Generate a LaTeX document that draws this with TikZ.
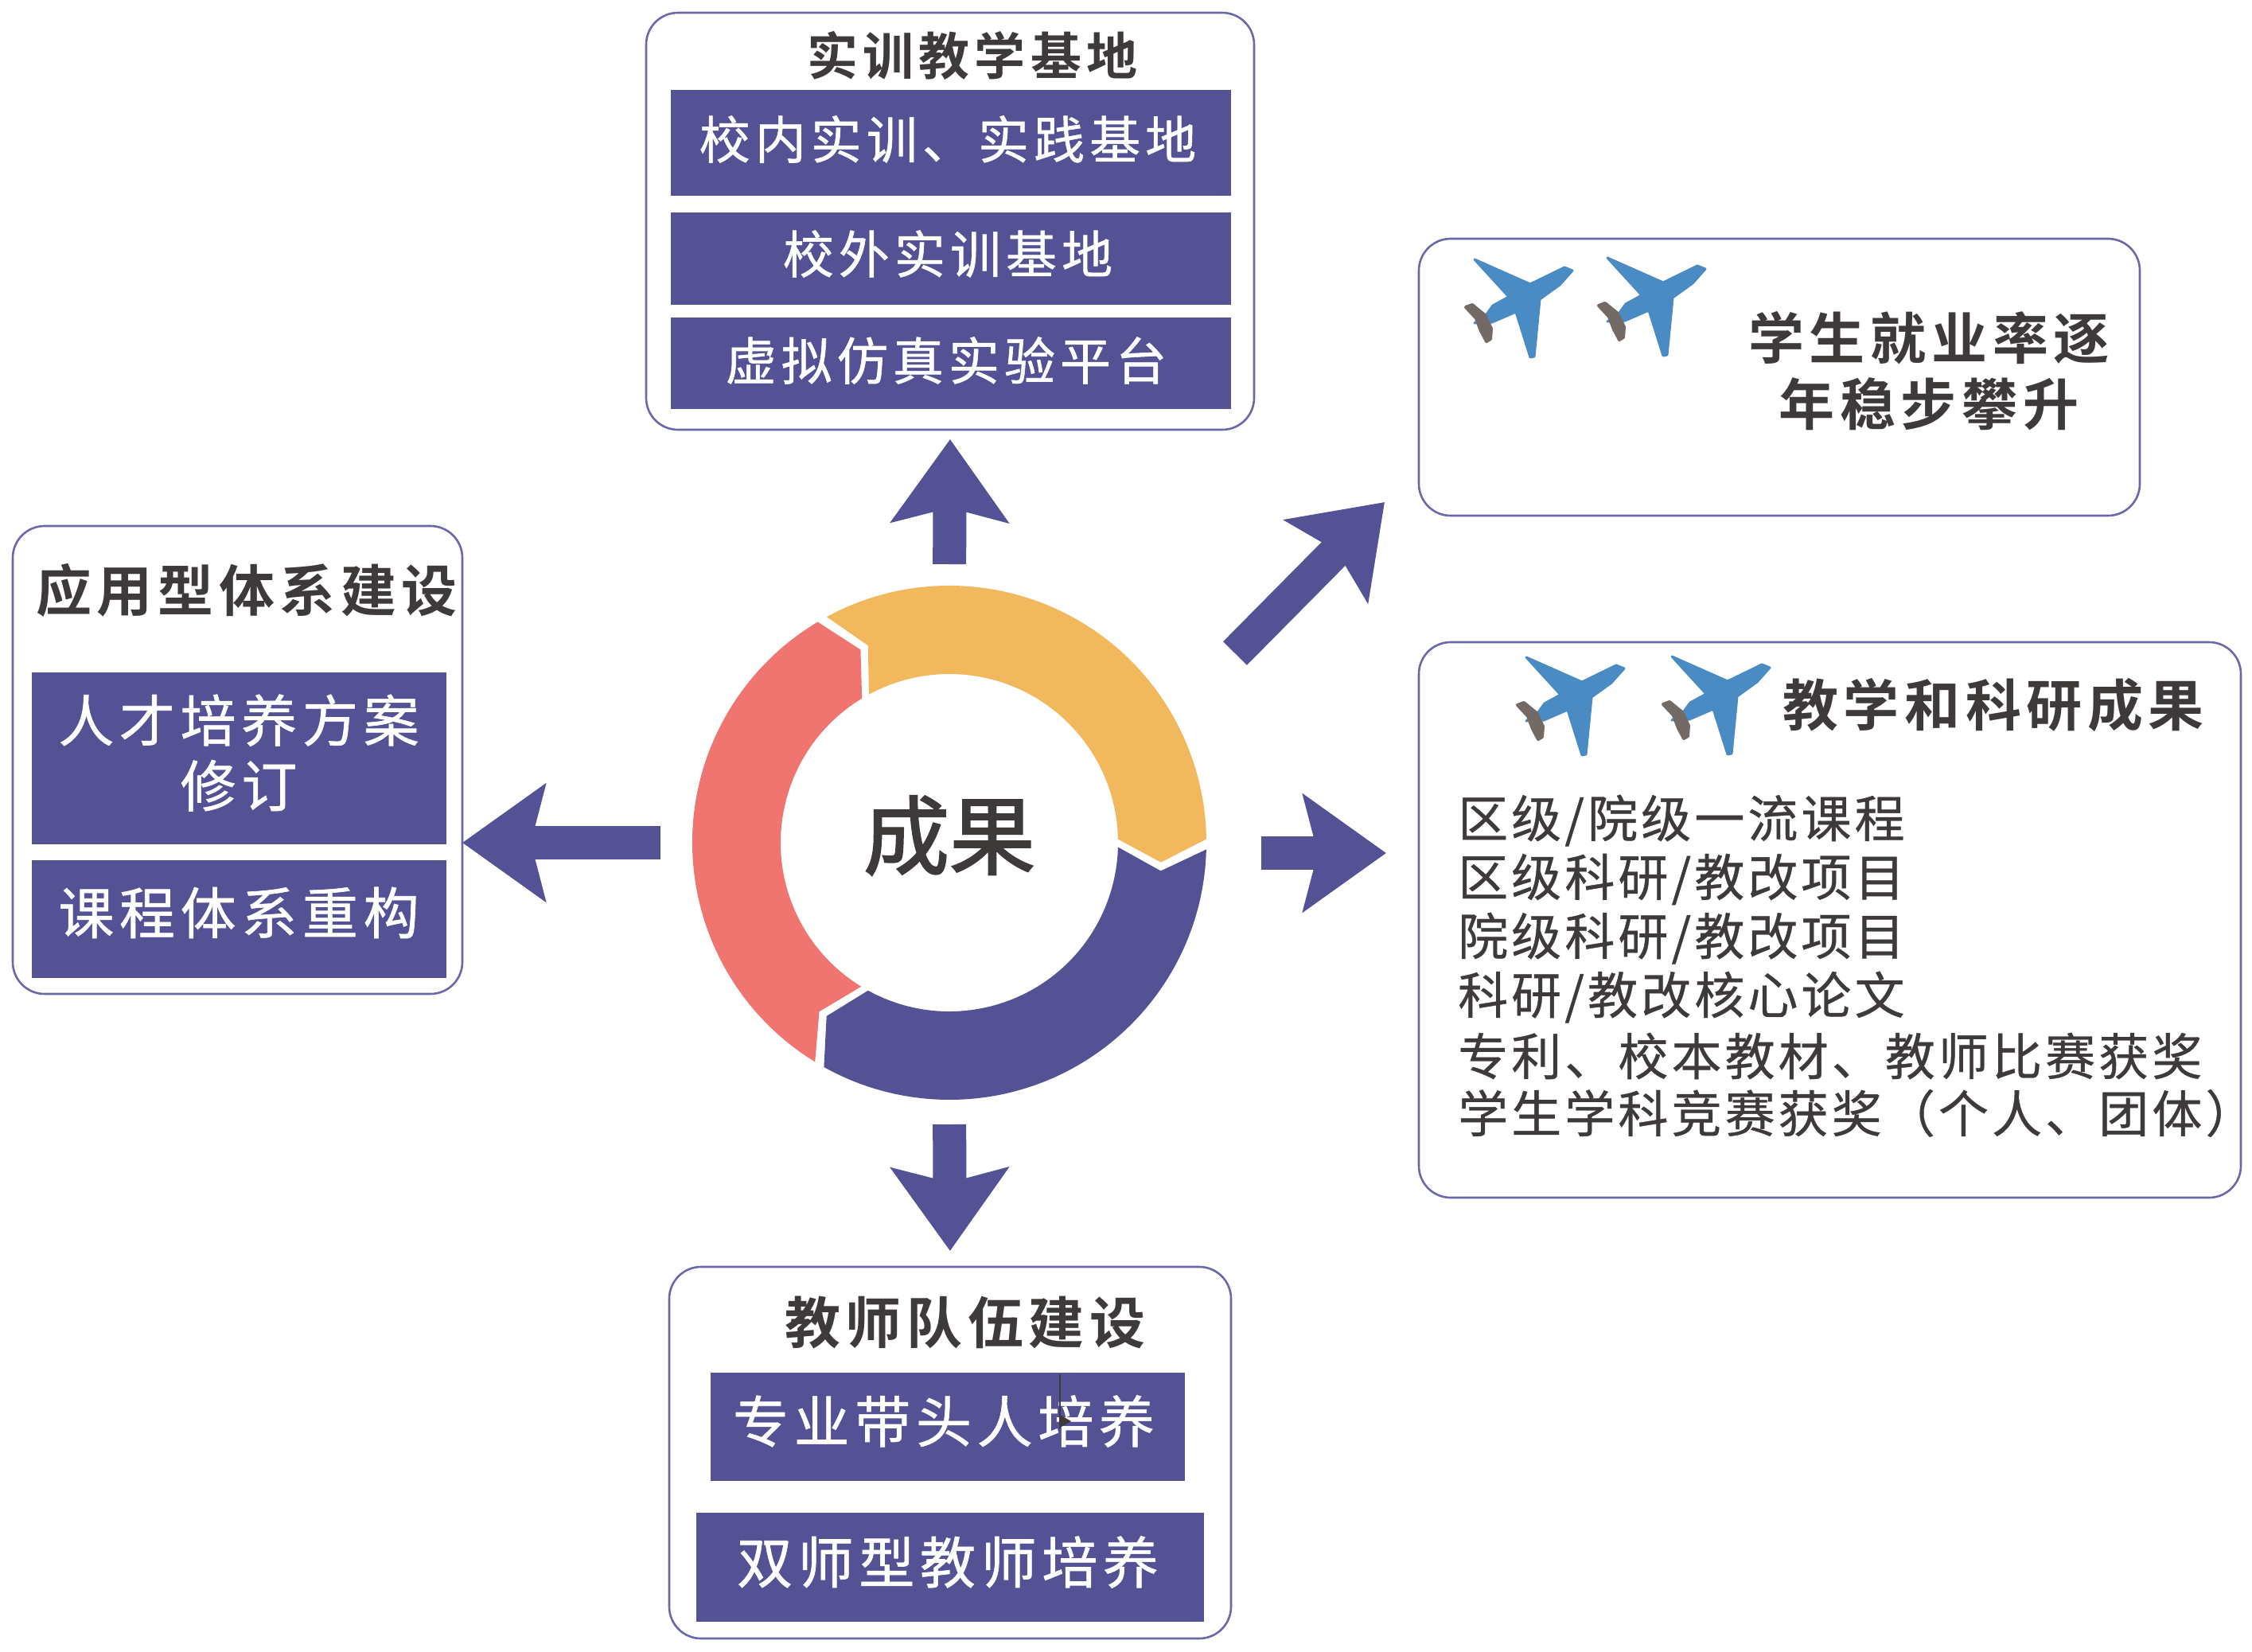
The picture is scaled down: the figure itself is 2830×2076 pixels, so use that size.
\documentclass[tikz,border=0pt]{standalone}
\usepackage{fontspec}
\usetikzlibrary{arrows.meta}
\newfontfamily\cjkb[LetterSpace=9.5]{Noto Sans CJK SC Bold}
\newfontfamily\cjkr[LetterSpace=9.5,FakeBold=0.9]{Noto Sans CJK SC}
\newfontfamily\cjkl[LetterSpace=6.5,FakeBold=0.6]{Noto Sans CJK SC}
\newfontfamily\cjkc[FakeBold=2]{Noto Sans CJK SC}
\definecolor{navy}{HTML}{545294}
\definecolor{edge}{HTML}{6A68A8}
\definecolor{ink}{HTML}{3E3A39}
\definecolor{gold}{HTML}{F2B85E}
\definecolor{coral}{HTML}{F07570}
\definecolor{skyb}{HTML}{4B8BC3}
\definecolor{tailg}{HTML}{736A66}
\tikzset{
  panel/.style={draw=edge,line width=2.6pt,fill=white,rounded corners=40pt,inner sep=0pt,outer sep=0pt,minimum width=#1},
  bar/.style={fill=navy,draw=none,inner sep=0pt,outer sep=0pt,text=white,align=center},
  ttl/.style={text=ink,inner sep=0pt,font=\fontsize{64}{72}\selectfont\cjkb},
  ttlb/.style={text=ink,inner sep=0pt,align=center,font=\fontsize{70}{83}\selectfont\cjkb},
  wh/.style={text=white,inner sep=0pt,align=center,font=\fontsize{64}{72}\selectfont\cjkr},
  whb/.style={text=white,inner sep=0pt,align=center,font=\fontsize{70}{82}\selectfont\cjkr},
  lst/.style={text=ink,inner sep=0pt,anchor=west,font=\fontsize{63}{72}\selectfont\cjkl},
  fat/.style={draw=navy,line width=42pt,-{Stealth[length=104pt,width=146pt,inset=18pt,color=navy]}},
  seg/.style={draw=none,fill=#1},
  plane/.pic={
    \filldraw[skyb,line width=3pt,line join=round] (63,-43) -- (53,-47) -- (10,-26) -- (-60,-57) -- (-17,-10) -- (-37,1)
      -- (-45,12) -- (-60,23) -- (-38,22) -- (-8,9) -- (10,66) -- (15,65) -- (22,-7) -- (47,-25) -- cycle;
    \filldraw[tailg,line width=4pt,line join=round] (-71,3) -- (-63,0) -- (-47,13) -- (-39,30) -- (-40,43) -- (-45,46) -- (-52,33) -- (-58,17) -- cycle;
  }
}
\newcommand\ringseg[1]{%
  \fill[seg=#1] (118.5:323) arc[start angle=118.5,end angle=0.8,radius=323]
     -- (-5.3:267) -- (1.2:212) arc[start angle=1.2,end angle=118.5,radius=212] -- (112.4:268) -- cycle;}
\begin{document}
\begin{tikzpicture}[x=1pt,y=-1pt]
\useasboundingbox (0,0) rectangle (2830,2076);
\fill[white] (0,0) rectangle (2830,2076);
% ring
\node[circle,minimum size=650pt,inner sep=0pt,outer sep=0pt] (ring) at (1193,1059) {};
\begin{scope}[shift={(1193,1059)},y=1pt]
  \ringseg{gold}
  \begin{scope}[rotate=-120]\ringseg{navy}\end{scope}
  \begin{scope}[rotate=-240]\ringseg{coral}\end{scope}
\end{scope}
\node[text=ink,inner sep=0pt,font=\fontsize{108}{120}\selectfont\cjkc] (ct) at (1193,1050) {成果};
% panels
\node[panel=764pt,minimum height=524pt] (top) at (1194,278) {};
\node[ttl] (t1) at (1222,70) {实训教学基地};
\node[bar,minimum width=704pt,minimum height=133pt] (b11) at (1195,180) {};
\node[wh] at (1191,175) {校内实训、实践基地};
\node[bar,minimum width=704pt,minimum height=116pt] (b12) at (1195,325) {};
\node[wh] at (1191,319) {校外实训基地};
\node[bar,minimum width=704pt,minimum height=115pt] (b13) at (1195,456.5) {};
\node[wh] at (1189,453) {虚拟仿真实验平台};
%
\node[panel=906pt,minimum height=348pt] (emp) at (2236,474) {};
\node[ttlb] (t2) at (2424,466) {学生就业率逐\\年稳步攀升};
\pic at (1913,383) {plane};
\pic at (2080,381) {plane};
%
\node[panel=1033pt,minimum height=698pt] (res) at (2299.5,1156) {};
\node[ttlb] (t3) at (2505,886) {教学和科研成果};
\pic at (1978,883) {plane};
\pic at (2161,882) {plane};
\node[lst] (l1) at (1832,1031) {区级/院级一流课程};
\node[lst] (l2) at (1832,1105) {区级科研/教改项目};
\node[lst] (l3) at (1832,1179) {院级科研/教改项目};
\node[lst] (l4) at (1832,1253) {科研/教改核心论文};
\node[lst] (l5) at (1832,1327) {专利、校本教材、教师比赛获奖};
\node[lst] (l6) at (1832,1399) {学生学科竞赛获奖（个人、团体）};
%
\node[panel=565pt,minimum height=588pt] (left) at (298.5,955) {};
\node[ttlb] (t4) at (310,742) {应用型体系建设};
\node[bar,minimum width=521pt,minimum height=216pt] (b41) at (300.5,953) {};
\node[whb] at (300,946) {人才培养方案\\修订};
\node[bar,minimum width=521pt,minimum height=148pt] (b42) at (300.5,1155) {};
\node[whb] at (300,1147) {课程体系重构};
%
\node[panel=706pt,minimum height=467pt] (bot) at (1194,1825.5) {};
\node[ttlb] (t5) at (1213,1662) {教师队伍建设};
\node[bar,minimum width=596pt,minimum height=136pt] (b51) at (1191,1793) {};
\node[whb] at (1186,1786) {专业带头人培养};
\node[bar,minimum width=638pt,minimum height=137pt] (b52) at (1194,1969.5) {};
\node[whb] at (1191,1963) {双师型教师培养};
% stray mark
\coordinate (sa) at (1332,1727);
\coordinate (sb) at (1332,1795);
\draw[ink,line width=1.5pt] (sa) -- (sb);
\fill[ink] (1332,1778) -- (1346,1786) -- (1332,1794) -- cycle;
% arrows
\draw[fat,shorten <=25pt,shorten >=12pt] (ring.north) -- (top.south);
\draw[fat,shorten <=29pt,shorten >=20pt] (ring.south) -- (bot.north);
\draw[fat,shorten <=38pt] (ring.west) -- (ring.west -| left.east);
\coordinate (ra) at (1585,1072);
\coordinate (rb) at (1742,1072);
\draw[fat] (ra) -- (rb);
\coordinate (da) at (1552,821);
\coordinate (db) at (1740,631);
\draw[fat] (da) -- (db);
\end{tikzpicture}
\end{document}
